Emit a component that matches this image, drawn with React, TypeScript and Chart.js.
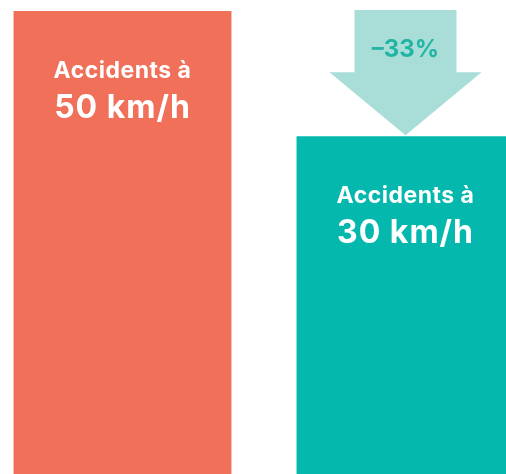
import React, { useEffect, useRef } from 'react';
import { Chart, registerables } from 'chart.js';

Chart.register(...registerables);

const categories = ['Accidents à 50 km/h', 'Accidents à 30 km/h'];
const values = [100, 67];
const labelLines = [
  ['Accidents à', '50 km/h'],
  ['Accidents à', '30 km/h'],
];
const reductionLabel = '–33%';
const axisMin = -22;
const axisMax = 100;

const barColors = ['#F0705A', '#05B8AD'];
const arrowColor = '#A9DDD7';
const arrowTextColor = '#22B5A6';
const FONT = 'Inter, "Open Sans", sans-serif';

const overlayPlugin = {
  id: 'overlay',
  afterDatasetsDraw(chart: any) {
    const ctx = chart.ctx;
    const meta = chart.getDatasetMeta(0);
    ctx.save();
    meta.data.forEach((bar: any, i: number) => {
      const x = bar.x;
      const top = bar.y;
      ctx.fillStyle = '#ffffff';
      ctx.textAlign = 'center';
      ctx.textBaseline = 'middle';
      ctx.letterSpacing = '0.5px';
      ctx.font = `700 23px ${FONT}`;
      ctx.fillText(labelLines[i][0], x, top + 60);
      ctx.letterSpacing = '1px';
      ctx.font = `700 32px ${FONT}`;
      ctx.fillText(labelLines[i][1], x, top + 97);
    });
    const b = meta.data[1];
    const tipX = b.x;
    const tipY = b.y - 1;
    const shaftHalf = 51;
    const headHalf = 76;
    const headH = 63;
    const shaftTop = chart.chartArea.top - 1;
    const headY = tipY - headH;
    ctx.fillStyle = arrowColor;
    ctx.beginPath();
    ctx.moveTo(tipX - shaftHalf, shaftTop);
    ctx.lineTo(tipX + shaftHalf, shaftTop);
    ctx.lineTo(tipX + shaftHalf, headY);
    ctx.lineTo(tipX + headHalf, headY);
    ctx.lineTo(tipX, tipY);
    ctx.lineTo(tipX - headHalf, headY);
    ctx.lineTo(tipX - shaftHalf, headY);
    ctx.closePath();
    ctx.fill();
    ctx.fillStyle = arrowTextColor;
    ctx.letterSpacing = '0px';
    ctx.font = `700 24px ${FONT}`;
    ctx.textAlign = 'center';
    ctx.textBaseline = 'middle';
    ctx.fillText(reductionLabel, tipX, shaftTop + 40);
    ctx.restore();
  },
};

export default function App() {
  const ref = useRef<HTMLCanvasElement | null>(null);
  useEffect(() => {
    document.body.style.margin = '0';
    const canvas = ref.current!;
    const chart = new Chart(canvas, {
      type: 'bar',
      data: {
        labels: categories,
        datasets: [
          {
            data: values,
            backgroundColor: barColors,
            borderWidth: 0,
            base: axisMin,
            barPercentage: 0.77,
            categoryPercentage: 1,
          } as any,
        ],
      },
      options: {
        responsive: false,
        animation: false,
        layout: { padding: { top: 11, bottom: 0, left: 0, right: 0 } },
        plugins: { legend: { display: false }, tooltip: { enabled: false } },
        scales: {
          x: { display: false },
          y: { display: false, min: axisMin, max: axisMax },
        },
      },
      plugins: [overlayPlugin],
    });
    return () => chart.destroy();
  }, []);
  return (
    <div style={{ position: 'relative', width: 506, height: 474, overflow: 'hidden', background: '#fff' }}>
      <canvas
        ref={ref}
        width={566}
        height={474}
        style={{ position: 'absolute', left: -19, top: 0, width: 566, height: 474 }}
      />
    </div>
  );
}
